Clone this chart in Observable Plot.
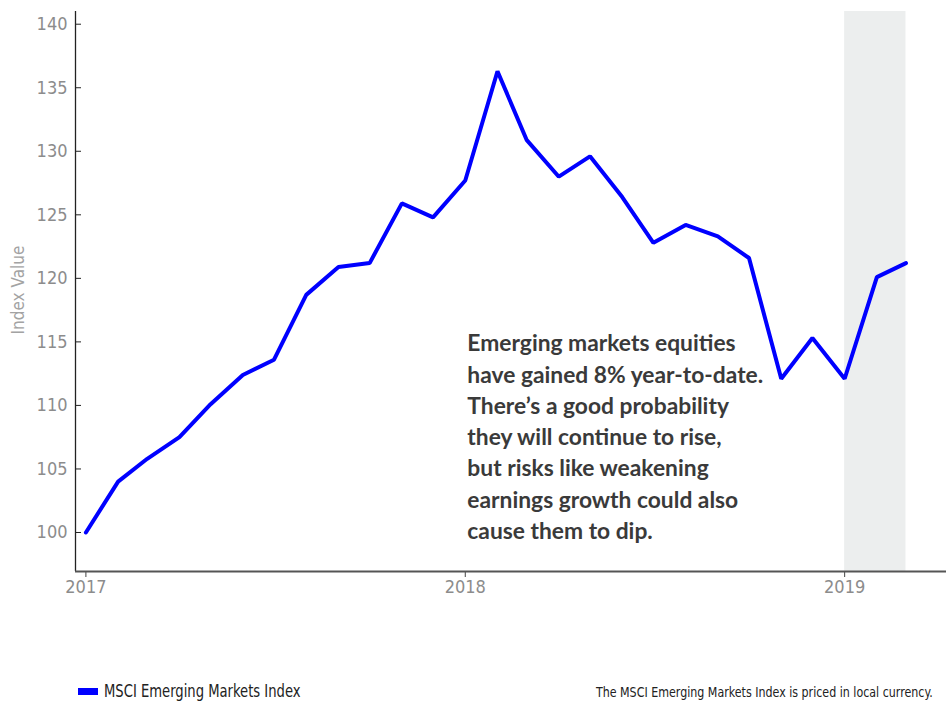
<!DOCTYPE html>
<html>
<head>
<meta charset="utf-8">
<script src="https://cdn.jsdelivr.net/npm/d3@7"></script>
<script src="https://cdn.jsdelivr.net/npm/@observablehq/plot@0.6"></script>
<style>
  html, body { margin: 0; padding: 0; background: #fff; }
  #wrap { position: relative; width: 950px; height: 703px; font-family: "Liberation Sans Narrow", "DejaVu Sans Condensed", "Roboto", sans-serif; }
  #legend { position: absolute; left: 78px; top: 681px; font-size: 17px; color: #222; display: flex; align-items: center; }
  #legend .sw { width: 20px; height: 7px; background: #0000ff; margin-right: 6px; }
  #legend .lt { display: inline-block; transform: scaleX(0.86); transform-origin: left center; }
  #caption { position: absolute; right: 17px; top: 684px; font-size: 14px; color: #222; transform: scaleX(0.88); transform-origin: right center; white-space: nowrap; }
</style>
</head>
<body>
<div id="wrap">
  <div id="chart"></div>
  <div id="legend"><span class="sw"></span><span class="lt">MSCI Emerging Markets Index</span></div>
  <div id="caption">The MSCI Emerging Markets Index is priced in local currency.</div>
</div>
<script>
const months = ["2017-01","2017-02","2017-03","2017-04","2017-05","2017-06","2017-07","2017-08","2017-09","2017-10","2017-11","2017-12",
                "2018-01","2018-02","2018-03","2018-04","2018-05","2018-06","2018-07","2018-08","2018-09","2018-10","2018-11","2018-12",
                "2019-01","2019-02","2019-03"];
const indexValues = [100.0, 104.0, 105.8, 107.5, 110.1, 112.4, 113.6, 118.7, 120.9, 121.2, 125.9, 124.8,
                     127.7, 136.3, 130.9, 128.0, 129.6, 126.4, 122.8, 124.2, 123.3, 121.6, 112.1, 115.3,
                     112.1, 120.1, 121.2];
const yTicks = [100, 105, 110, 115, 120, 125, 130, 135, 140];
const xTickLabels = ["2017", "2018", "2019"];
const shadeStart = "2019-01";
const shadeEnd = "2019-03";
const seriesName = "MSCI Emerging Markets Index";
const note = "Emerging markets equities\nhave gained 8% year-to-date.\nThere’s a good probability\nthey will continue to rise,\nbut risks like weakening\nearnings growth could also\ncause them to dip.";

const parse = d3.utcParse("%Y-%m");
const data = months.map((m, i) => ({date: parse(m), value: indexValues[i]}));
const xTicks = xTickLabels.map(y => d3.utcParse("%Y")(y));
const xDomain = [new Date(Date.UTC(2016, 11, 22)), new Date(Date.UTC(2019, 3, 9))];
const yDomain = [96.93, 141.0];

const chart = Plot.plot({
  width: 950,
  height: 610,
  marginLeft: 75,
  marginRight: 4,
  marginTop: 11,
  marginBottom: 39,
  style: {fontFamily: '"Liberation Sans Narrow", "DejaVu Sans Condensed", Roboto, sans-serif', background: "#fff"},
  x: {type: "utc", domain: xDomain, axis: null},
  y: {domain: yDomain, axis: null},
  marks: [
    Plot.rectY([{x1: parse(shadeStart), x2: parse(shadeEnd)}], {x1: "x1", x2: "x2", y1: yDomain[0], y2: yDomain[1], fill: "#eceeee"}),
    Plot.axisY(yTicks, {anchor: "left", tickSize: -6, tickPadding: 14, fontSize: 18, color: "#8c8c8c", stroke: "#222", label: null}),
    Plot.axisX(xTicks, {anchor: "bottom", tickSize: 6, tickPadding: 3, fontSize: 18, color: "#8c8c8c", stroke: "#444", tickFormat: d3.utcFormat("%Y"), label: null}),
    Plot.ruleX([xDomain[0]], {stroke: "#222", strokeWidth: 1.3}),
    Plot.ruleY([yDomain[0]], {stroke: "#555", strokeWidth: 2}),
    Plot.line(data, {x: "date", y: "value", stroke: "#0000ff", strokeWidth: 4, strokeLinejoin: "miter"}),
    Plot.text([note], {x: new Date(Date.UTC(2018, 0, 3)), y: 116.0, text: d => d, textAnchor: "start", lineAnchor: "top", lineHeight: 1.37, fontSize: 22.8, fontWeight: "bold", fill: "#3a3a3a", fontFamily: "Lato, 'Open Sans', sans-serif"})
  ]
});
// y-axis title
const svg = d3.select(chart);
svg.append("text")
  .attr("transform", "translate(24,290) rotate(-90)")
  .attr("text-anchor", "middle")
  .attr("font-size", 17)
  .attr("fill", "#a3a3a3")
  .text("Index Value");
document.getElementById("chart").appendChild(chart);
</script>
</body>
</html>
